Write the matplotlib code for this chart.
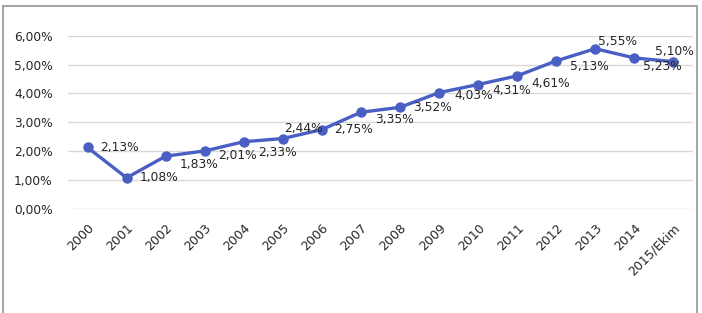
import matplotlib
matplotlib.use("Agg")
import matplotlib.pyplot as plt
import matplotlib.transforms as mtransforms
from matplotlib.patches import Rectangle

# datos del grafico
anios = ['2000', '2001', '2002', '2003', '2004', '2005', '2006', '2007',
         '2008', '2009', '2010', '2011', '2012', '2013', '2014', '2015/Ekim']
tasas = [2.13, 1.08, 1.83, 2.01, 2.33, 2.44, 2.75, 3.35,
         3.52, 4.03, 4.31, 4.61, 5.13, 5.55, 5.23, 5.10]
etiquetas_y = [0, 1, 2, 3, 4, 5, 6]

# desplazamiento de cada etiqueta (pixeles, borde izquierdo / centro vertical)
desplazamientos = [(13, 0), (13, 0), (14, -8), (13, -5), (14, -11), (1, 10),
                   (12, 0), (14, -7), (13, 0), (15, -3), (14, -6), (14, -8),
                   (14, -6), (3, 7), (9, -9), (-18, 10)]

plt.rcParams['font.family'] = ['DejaVu Sans']

def formato(v):
    return f"{v:.2f}".replace('.', ',') + '%'

fig = plt.figure(figsize=(7.02, 3.13), dpi=100)
ax = fig.add_axes([68 / 702, 1 - 209 / 313, 625 / 702, (209 - 35.7) / 313])

color = '#4a5fc3'
x = list(range(len(anios)))
ax.plot(x, tasas, color=color, linewidth=2.4, marker='o', markersize=6.5,
        clip_on=False, zorder=3)

for xi, v, (dx, dy) in zip(x, tasas, desplazamientos):
    ax.annotate(formato(v), (xi, v), xytext=(dx, dy), textcoords='offset pixels',
                ha='left', va='center', fontsize=8.8, color='#262626', zorder=4)

ax.set_xlim(-0.5, len(anios) - 0.5)
ax.set_ylim(0, 6)
ax.set_yticks(etiquetas_y)
ax.set_yticklabels([formato(v) for v in etiquetas_y], fontsize=8.8, color='#262626')
ax.set_xticks(x)
ax.set_xticklabels(anios, rotation=45, ha='right', va='top',
                   rotation_mode='anchor', fontsize=9, color='#262626')
corrimiento = mtransforms.ScaledTranslation(-4 / 100, 0, fig.dpi_scale_trans)
for lab in ax.get_xticklabels():
    lab.set_transform(lab.get_transform() + corrimiento)
ax.tick_params(axis='both', length=0)
ax.tick_params(axis='y', pad=11)
ax.tick_params(axis='x', pad=9)
ax.grid(axis='y', color='#d9d9d9', linewidth=1)
ax.set_axisbelow(True)
for lado in ax.spines.values():
    lado.set_visible(False)

# marco exterior
marco = Rectangle((3 / 702, -0.2), 694 / 702, 1.2 - 6 / 313, transform=fig.transFigure,
                  fill=False, edgecolor='#a6a6a6', linewidth=1.5, clip_on=False)
fig.patches.append(marco)

fig.savefig('out.png', dpi=100)
